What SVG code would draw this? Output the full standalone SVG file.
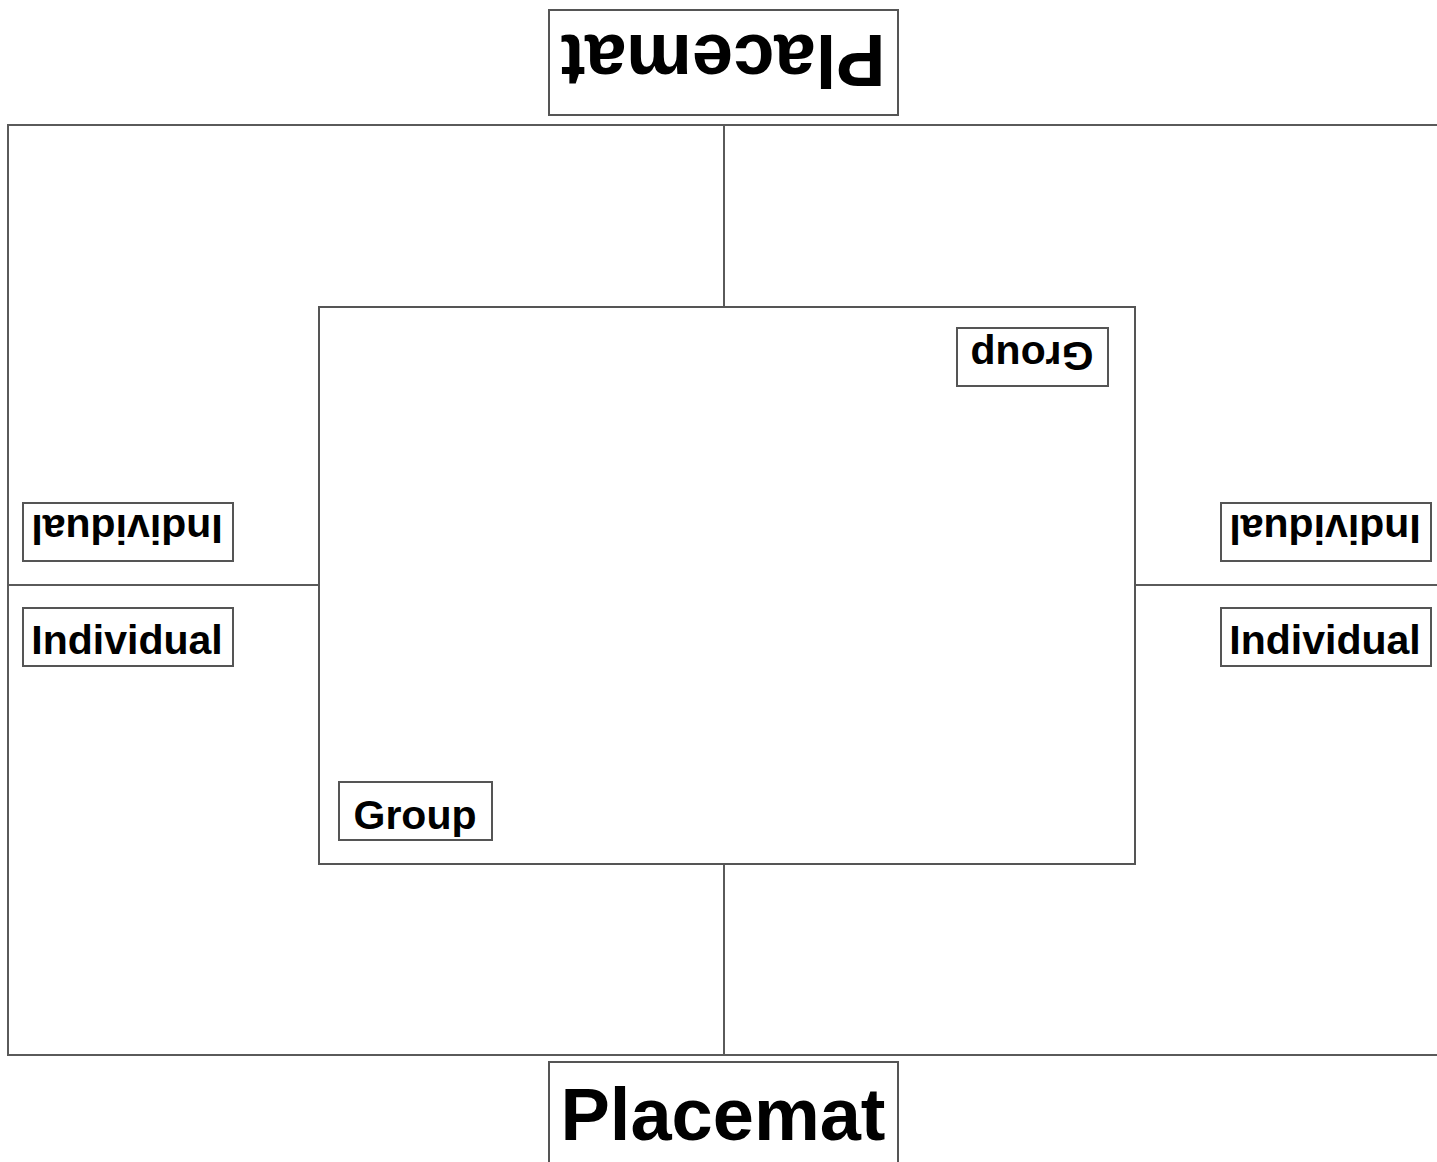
<svg xmlns="http://www.w3.org/2000/svg" width="1437" height="1162" viewBox="0 0 1437 1162">
<style>
.ln{fill:none;stroke:#5a5a5a;stroke-width:2}
.bx{fill:#fff;stroke:#555;stroke-width:2}
.t{font-family:"Liberation Sans",Arial,sans-serif;font-weight:bold;fill:#000;text-anchor:middle}
.big{font-size:74px}
.sm{font-size:41px}
</style>
<rect width="1437" height="1162" fill="#fff"/>
<g id="connectors">
<path class="ln" d="M1440,125 H8 V1055 H1440"/>
<line class="ln" x1="724" y1="125" x2="724" y2="307"/>
<line class="ln" x1="724" y1="864" x2="724" y2="1055"/>
<line class="ln" x1="8" y1="585" x2="319" y2="585"/>
<line class="ln" x1="1135" y1="585" x2="1440" y2="585"/>
</g>
<g id="center"><rect class="bx" x="319" y="307" width="816" height="557"/></g>
<g id="placemat-top"><rect class="bx" x="549" y="10" width="349" height="105"/><text class="t big" transform="translate(723,35) rotate(180)">Placemat</text></g>
<g id="placemat-bottom"><rect class="bx" x="549" y="1062" width="349" height="110"/><text class="t big" x="723" y="1140">Placemat</text></g>
<g id="ind-left-top"><rect class="bx" x="23" y="503" width="210" height="58"/><text class="t sm" transform="translate(127,515) rotate(180)">Individual</text></g>
<g id="ind-left-bottom"><rect class="bx" x="23" y="608" width="210" height="58"/><text class="t sm" x="127" y="654">Individual</text></g>
<g id="ind-right-top"><rect class="bx" x="1221" y="503" width="210" height="58"/><text class="t sm" transform="translate(1325,515) rotate(180)">Individual</text></g>
<g id="ind-right-bottom"><rect class="bx" x="1221" y="608" width="210" height="58"/><text class="t sm" x="1325" y="654">Individual</text></g>
<g id="group-bottom"><rect class="bx" x="339" y="782" width="153" height="58"/><text class="t sm" x="415" y="829">Group</text></g>
<g id="group-top"><rect class="bx" x="957" y="328" width="151" height="58"/><text class="t sm" transform="translate(1032,342) rotate(180)">Group</text></g>
</svg>
